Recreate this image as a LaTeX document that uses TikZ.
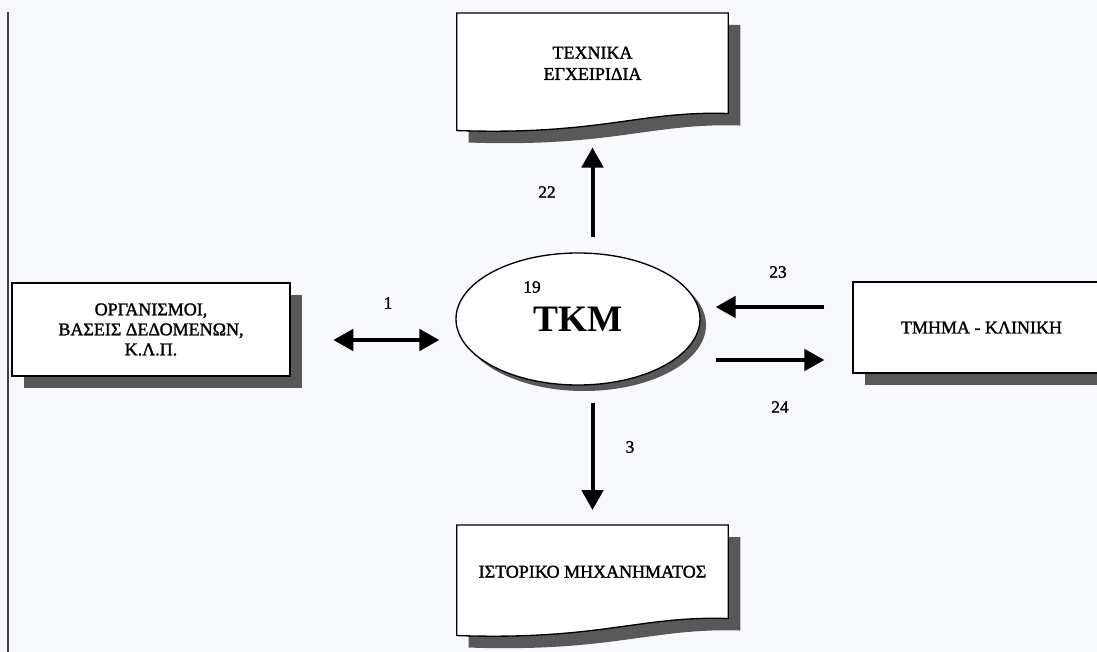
\documentclass[tikz,border=0pt]{standalone}
\usepackage{fontspec}
\setmainfont{Liberation Serif}
\newfontfamily\scanfont{Liberation Serif}[FakeBold=1.5]
\usepackage{tikz}
\usetikzlibrary{arrows.meta,backgrounds,calc,shadows,shapes.geometric}

\definecolor{papier}{RGB}{248,249,252}
\definecolor{schatten}{RGB}{88,88,88}

\tikzset{
  kasten/.style={draw=black,line width=1pt,fill=white,inner sep=0pt,align=center,
    font=\scanfont\fontsize{13.5}{15}\selectfont,
    drop shadow={shadow xshift=9pt,shadow yshift=-9pt,fill=schatten,opacity=1}},
  dokument/.style={rectangle,minimum width=203.25pt,inner sep=0pt,anchor=north,align=center,
    font=\scanfont\fontsize{13.5}{16}\selectfont},
  nummer/.style={inner sep=1pt,font=\scanfont\fontsize{13}{13}\selectfont},
  pfeil/.style={line width=3pt,-{Triangle[length=15pt,width=16pt]}}
}
%Form eines Dokuments mit welliger Unterkante
\newcommand{\dokform}[1]{(#1.north west) -- (#1.north east) -- (#1.south east)
  .. controls ($(#1.south east)+(-88,-3)$) and ($(#1.south west)+(143,22)$) .. ($(#1.south west)+(0,17)$) -- cycle}

\begin{document}
\begin{tikzpicture}[x=0.75pt,y=-0.75pt]
\useasboundingbox (0,0) rectangle (1097,652);
\begin{scope}[on background layer]
\fill[papier] (0,0) rectangle (1097,652);
\end{scope}
%Linker Rand
\draw[black!75,line width=1.5pt] (8,12) -- (8,652);
%Dokumente
\node[dokument,minimum height=75pt] (handbuch) at (592.5,13) {ΤΕΧΝΙΚΑ\\ΕΓΧΕΙΡΙΔΙΑ};
\node[dokument,minimum height=69.75pt] (verlauf) at (592.5,525) {ΙΣΤΟΡΙΚΟ ΜΗΧΑΝΗΜΑΤΟΣ};
\begin{scope}[on background layer]
\foreach \dok in {handbuch,verlauf}{
\fill[schatten,transform canvas={shift={(9pt,-9pt)}}] \dokform{\dok};
\draw[line width=1pt,fill=white] \dokform{\dok};
}
\end{scope}
%Mitte und Kaesten
\node[ellipse,draw,line width=1pt,fill=white,minimum width=183pt,minimum height=99pt,inner sep=0pt,
  drop shadow={shadow xshift=4.5pt,shadow yshift=-4.5pt,fill=schatten,opacity=1},
  font=\fontsize{28}{30}\selectfont\bfseries] (tkm) at (578,319) {ΤΚΜ};
\node[kasten,minimum width=208.5pt,minimum height=69.75pt] (org) at (151,329.5) {ΟΡΓΑΝΙΣΜΟΙ,\\ΒΑΣΕΙΣ ΔΕΔΟΜΕΝΩΝ,\\Κ.Λ.Π.};
\node[kasten,minimum width=192.75pt,minimum height=68.25pt] (klinik) at (981.5,327.5) {ΤΜΗΜΑ - ΚΛΙΝΙΚΗ};
%Pfeile
\draw[pfeil,{Triangle[length=15pt,width=16pt]}-{Triangle[length=15pt,width=16pt]},shorten <=32pt,shorten >=12pt]
  ([shift={(0,10.5)}]org.east) -- ([shift={(0,21)}]tkm.west);
\draw[pfeil,shorten <=11.25pt,shorten >=25.5pt] (tkm.north -| handbuch.south) -- (handbuch.south);
\draw[pfeil,shorten <=12.75pt,shorten >=11.25pt] (tkm.south -| verlauf.north) -- (verlauf.north);
\draw[pfeil,shorten <=21pt,shorten >=11.25pt] ([shift={(0,-20.5)}]klinik.west) -- ([shift={(0,-12)}]tkm.east);
\draw[pfeil,shorten <=11.25pt,shorten >=21pt] ([shift={(0,41)}]tkm.east) -- ([shift={(0,32.5)}]klinik.west);
%Nummern
\node[nummer] (n19) at (532,287) {19};
\node[nummer] (n1) at (388,303) {1};
\node[nummer] (n22) at (547,192) {22};
\node[nummer] (n23) at (778,272) {23};
\node[nummer] (n24) at (780,407) {24};
\node[nummer] (n3) at (630,447) {3};
\end{tikzpicture}
\end{document}
